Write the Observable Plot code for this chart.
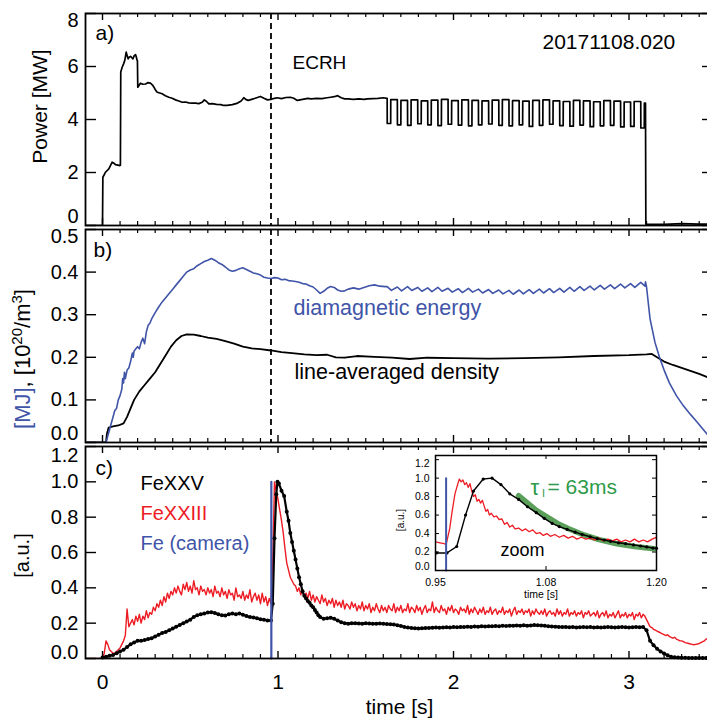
<!DOCTYPE html>
<html><head><meta charset="utf-8">
<script src="https://cdn.jsdelivr.net/npm/d3@7"></script>
<script src="https://cdn.jsdelivr.net/npm/@observablehq/plot@0.6"></script>
<style>
html,body{margin:0;padding:0;background:#fff;overflow:hidden}
#c{position:relative;width:707px;height:718px;overflow:hidden;background:#fff}
#c svg{max-width:none !important}
</style>
</head><body><div id="c"></div>
<script>
// ---------------- DATA ----------------
// panel a: ECRH power [MW] before modulation  [time s, power MW]
const powerRamp = [[-0.09,0],[0.000,0],[0.002,1.82],[0.010,1.92],[0.017,2.01],[0.036,2.14],[0.055,2.39],[0.065,2.35],[0.074,2.30],[0.088,2.28],[0.099,2.26],[0.102,2.27],[0.104,5.79],[0.112,5.97],[0.120,6.10],[0.127,6.23],[0.135,6.54],[0.141,6.40],[0.146,6.29],[0.153,6.36],[0.160,6.38],[0.167,6.33],[0.173,6.29],[0.180,6.40],[0.188,6.45],[0.193,6.35],[0.197,6.23],[0.199,6.22],[0.201,5.22],[0.216,5.37],[0.230,5.33],[0.245,5.34],[0.258,5.39],[0.273,5.37],[0.285,5.30],[0.293,5.22],[0.303,5.10],[0.312,5.03],[0.326,5.00],[0.340,4.97],[0.358,4.90],[0.378,4.84],[0.397,4.80],[0.416,4.74],[0.435,4.70],[0.454,4.65],[0.473,4.66],[0.492,4.63],[0.511,4.62],[0.530,4.62],[0.549,4.60],[0.568,4.65],[0.580,4.74],[0.593,4.68],[0.606,4.59],[0.625,4.60],[0.650,4.57],[0.675,4.56],[0.690,4.53],[0.710,4.53],[0.740,4.56],[0.770,4.62],[0.790,4.70],[0.805,4.82],[0.818,4.75],[0.830,4.72],[0.850,4.76],[0.870,4.80],[0.900,4.87],[0.920,4.80],[0.940,4.74],[0.960,4.76],[0.980,4.80],[0.995,4.82],[1.020,4.79],[1.045,4.83],[1.070,4.84],[1.090,4.80],[1.110,4.72],[1.140,4.76],[1.170,4.80],[1.190,4.78],[1.220,4.80],[1.250,4.79],[1.280,4.82],[1.300,4.84],[1.320,4.86],[1.340,4.90],[1.360,4.82],[1.380,4.78],[1.400,4.78],[1.430,4.76],[1.460,4.78],[1.490,4.76],[1.510,4.78],[1.540,4.79],[1.570,4.80],[1.600,4.82],[1.621,4.80]];
// modulation: dip start/end times [s], level after each dip and dip level [MW]
const modDipStart = [1.622,1.680,1.738,1.796,1.853,1.911,1.969,2.027,2.085,2.142,2.200,2.258,2.316,2.374,2.431,2.489,2.547,2.605,2.663,2.720,2.778,2.836,2.894,2.952,3.009,3.067];
const modDipEnd   = [1.642,1.700,1.758,1.816,1.873,1.931,1.989,2.047,2.105,2.162,2.220,2.278,2.336,2.394,2.451,2.509,2.567,2.625,2.683,2.740,2.798,2.856,2.914,2.972,3.029,3.087];
const modHigh = [4.75,4.72,4.74,4.70,4.73,4.76,4.71,4.74,4.72,4.70,4.73,4.75,4.71,4.69,4.72,4.74,4.70,4.68,4.72,4.70,4.67,4.71,4.69,4.66,4.68,4.62];
const modLow  = [3.85,3.80,3.78,3.84,3.80,3.77,3.82,3.79,3.76,3.80,3.83,3.78,3.76,3.80,3.74,3.78,3.82,3.77,3.75,3.79,3.73,3.76,3.78,3.72,3.74,3.68];
const powerEnd = [[3.094,4.62],[3.096,0.05],[3.20,0.04],[3.30,0.07],[3.40,0.05],[3.48,0.06]];
const ecrhMarker = [0.96];

// panel b: diamagnetic energy [MJ]
const diaRise = [[-0.09,0],[0.02,0],[0.03,0.015],[0.04,0.03],[0.05,0.045],[0.06,0.06],[0.07,0.075],[0.08,0.08],[0.09,0.10],[0.10,0.11],[0.11,0.125],[0.115,0.15],[0.12,0.14],[0.125,0.165],[0.13,0.15],[0.14,0.17],[0.15,0.175],[0.16,0.19],[0.17,0.21],[0.175,0.20],[0.18,0.215],[0.19,0.22],[0.20,0.225],[0.21,0.22],[0.22,0.235],[0.23,0.245],[0.24,0.232],[0.25,0.26],[0.26,0.275],[0.27,0.28],[0.28,0.29],[0.30,0.305],[0.32,0.318],[0.34,0.33],[0.36,0.34],[0.38,0.35],[0.40,0.36],[0.42,0.37],[0.44,0.38],[0.46,0.39],[0.48,0.40],[0.50,0.405],[0.52,0.408],[0.54,0.415],[0.56,0.42],[0.58,0.425],[0.60,0.428],[0.62,0.432],[0.64,0.428],[0.66,0.422],[0.68,0.418],[0.70,0.412],[0.72,0.405],[0.74,0.402],[0.76,0.404],[0.78,0.408],[0.80,0.41],[0.82,0.406],[0.84,0.402],[0.86,0.398],[0.88,0.396],[0.90,0.393],[0.92,0.388],[0.94,0.386],[0.96,0.385],[0.98,0.387],[1.00,0.386],[1.02,0.382],[1.04,0.383],[1.06,0.38],[1.08,0.379],[1.10,0.378],[1.12,0.376],[1.14,0.373],[1.16,0.372],[1.18,0.368],[1.20,0.365],[1.22,0.358],[1.24,0.35],[1.26,0.355],[1.28,0.362],[1.30,0.366],[1.32,0.364],[1.34,0.358],[1.36,0.355],[1.38,0.356],[1.40,0.36],[1.43,0.363],[1.46,0.36],[1.49,0.364],[1.52,0.368],[1.55,0.37],[1.58,0.367],[1.61,0.366]];
const diaPeak   = [0.366,0.365,0.366,0.364,0.363,0.364,0.362,0.361,0.362,0.360,0.359,0.358,0.357,0.358,0.359,0.360,0.361,0.362,0.364,0.366,0.367,0.369,0.370,0.372,0.373,0.376];
const diaTrough = [0.357,0.356,0.357,0.355,0.354,0.355,0.353,0.352,0.353,0.351,0.350,0.349,0.348,0.349,0.350,0.351,0.352,0.353,0.355,0.357,0.358,0.360,0.361,0.363,0.364,0.367];
const diaDecay = [[3.094,0.377],[3.10,0.365],[3.12,0.29],[3.148,0.235],[3.176,0.197],[3.20,0.17],[3.23,0.14],[3.27,0.11],[3.31,0.086],[3.35,0.066],[3.39,0.047],[3.43,0.027],[3.46,0.012],[3.48,0.005]];
// panel b: line-averaged density [1e20/m^3]
const density = [[-0.09,0],[0.02,0],[0.025,0.02],[0.035,0.035],[0.06,0.038],[0.09,0.04],[0.12,0.045],[0.14,0.06],[0.16,0.08],[0.18,0.10],[0.21,0.12],[0.24,0.135],[0.27,0.15],[0.30,0.165],[0.33,0.185],[0.36,0.205],[0.39,0.225],[0.42,0.24],[0.45,0.25],[0.48,0.254],[0.52,0.253],[0.56,0.25],[0.60,0.246],[0.65,0.243],[0.70,0.238],[0.75,0.232],[0.80,0.225],[0.85,0.221],[0.90,0.219],[0.96,0.216],[1.02,0.212],[1.08,0.21],[1.15,0.207],[1.22,0.205],[1.28,0.206],[1.33,0.20],[1.38,0.199],[1.45,0.203],[1.55,0.201],[1.65,0.199],[1.75,0.196],[1.85,0.199],[2.00,0.198],[2.20,0.197],[2.40,0.198],[2.60,0.20],[2.80,0.203],[3.00,0.205],[3.10,0.207],[3.13,0.208],[3.16,0.20],[3.20,0.19],[3.25,0.182],[3.30,0.175],[3.35,0.168],[3.40,0.161],[3.45,0.153],[3.48,0.15]];

// panel c: FeXXIII (red), sampled every 0.01 s from t = 0 (one row = 0.1 s)
const fe23Start = 0, fe23Step = 0.01;
const fe23 = [
0.00,0.03,0.10,0.08,0.05,0.04,0.03,0.03,0.04,0.05,
0.06,0.08,0.10,0.13,0.28,0.18,0.20,0.22,0.19,0.24,
0.21,0.25,0.20,0.24,0.22,0.27,0.23,0.26,0.25,0.29,
0.27,0.31,0.29,0.33,0.30,0.35,0.32,0.37,0.34,0.38,
0.36,0.40,0.37,0.41,0.38,0.36,0.42,0.39,0.43,0.38,
0.41,0.37,0.44,0.39,0.40,0.36,0.41,0.38,0.39,0.36,
0.40,0.37,0.39,0.35,0.41,0.37,0.38,0.35,0.40,0.36,
0.38,0.34,0.39,0.36,0.37,0.33,0.40,0.35,0.36,0.34,
0.38,0.33,0.36,0.34,0.39,0.32,0.35,0.37,0.33,0.36,
0.31,0.37,0.32,0.35,0.30,0.34,0.31,0.55,1.00,0.95,
0.90,0.84,0.78,0.71,0.62,0.54,0.50,0.46,0.44,0.42,
0.41,0.38,0.40,0.36,0.39,0.35,0.37,0.34,0.38,0.33,
0.36,0.32,0.35,0.33,0.31,0.36,0.32,0.34,0.30,0.33,
0.31,0.34,0.29,0.33,0.30,0.32,0.29,0.33,0.28,0.31,
0.30,0.28,0.32,0.29,0.31,0.27,0.30,0.28,0.32,0.27,
0.30,0.28,0.31,0.26,0.29,0.27,0.31,0.28,0.26,0.30,
0.27,0.29,0.26,0.30,0.28,0.27,0.31,0.26,0.29,0.27,
0.30,0.26,0.28,0.27,0.31,0.26,0.29,0.28,0.26,0.30,
0.27,0.29,0.25,0.28,0.30,0.26,0.28,0.27,0.32,0.26,
0.29,0.27,0.26,0.30,0.27,0.28,0.25,0.29,0.27,0.30,
0.26,0.28,0.27,0.25,0.29,0.27,0.28,0.26,0.30,0.25,
0.28,0.26,0.29,0.27,0.25,0.28,0.26,0.29,0.25,0.27,
0.26,0.29,0.25,0.27,0.28,0.25,0.27,0.26,0.29,0.25,
0.27,0.26,0.28,0.24,0.27,0.29,0.25,0.27,0.26,0.28,
0.25,0.27,0.26,0.28,0.24,0.27,0.25,0.28,0.26,0.25,
0.27,0.25,0.28,0.24,0.26,0.27,0.25,0.26,0.24,0.28,
0.25,0.27,0.24,0.26,0.25,0.28,0.24,0.26,0.25,0.27,
0.24,0.26,0.25,0.27,0.23,0.26,0.25,0.27,0.24,0.25,
0.26,0.24,0.27,0.23,0.25,0.26,0.24,0.27,0.23,0.25,
0.24,0.26,0.23,0.25,0.27,0.23,0.25,0.24,0.26,0.23,
0.25,0.24,0.26,0.22,0.25,0.24,0.26,0.23,0.25,0.24,
0.22,0.20,0.18,0.175,0.165,0.16,0.155,0.15,0.145,0.14,
0.135,0.13,0.135,0.125,0.12,0.115,0.12,0.11,0.105,0.10,
0.10,0.095,0.09,0.088,0.085,0.082,0.08,0.078,0.08,0.082,
0.085,0.09,0.095,0.10,0.11,0.115,0.12,0.125];
const fe23Pre = [[-0.09,0],[0,0]];
// panel c: FeXXV (black, dotted samples)
const fe25 = [[0,0.005],[0.02,0.01],[0.04,0.015],[0.06,0.02],[0.08,0.03],[0.10,0.04],[0.12,0.05],[0.14,0.065],[0.16,0.08],[0.18,0.09],[0.20,0.10],[0.22,0.10],[0.24,0.105],[0.26,0.11],[0.28,0.115],[0.30,0.125],[0.32,0.135],[0.34,0.145],[0.36,0.15],[0.38,0.16],[0.40,0.17],[0.42,0.18],[0.44,0.19],[0.46,0.20],[0.48,0.21],[0.50,0.22],[0.52,0.235],[0.54,0.245],[0.56,0.25],[0.58,0.255],[0.60,0.26],[0.62,0.262],[0.64,0.258],[0.66,0.25],[0.68,0.245],[0.70,0.243],[0.72,0.25],[0.74,0.255],[0.76,0.25],[0.78,0.255],[0.80,0.248],[0.82,0.24],[0.84,0.235],[0.86,0.232],[0.88,0.228],[0.90,0.222],[0.92,0.22],[0.94,0.215],[0.96,0.215],[0.97,0.31],[0.98,0.68],[0.99,0.93],[0.997,1.0],[1.005,0.99],[1.02,0.95],[1.035,0.92],[1.05,0.83],[1.06,0.78],[1.07,0.71],[1.08,0.66],[1.09,0.61],[1.10,0.56],[1.11,0.51],[1.12,0.46],[1.13,0.42],[1.14,0.38],[1.15,0.355],[1.16,0.34],[1.17,0.325],[1.18,0.315],[1.19,0.30],[1.20,0.29],[1.21,0.275],[1.22,0.26],[1.23,0.245],[1.24,0.235],[1.26,0.225],[1.28,0.228],[1.30,0.23],[1.32,0.225],[1.34,0.215],[1.36,0.205],[1.38,0.20],
[1.40,0.197],[1.42,0.199],[1.44,0.200],[1.46,0.198],[1.48,0.197],[1.50,0.199],[1.52,0.198],[1.54,0.196],[1.56,0.197],[1.58,0.198],[1.60,0.196],[1.62,0.195],[1.64,0.194],[1.66,0.192],[1.68,0.188],[1.70,0.184],[1.72,0.179],[1.74,0.175],[1.76,0.173],[1.78,0.171],[1.80,0.170],[1.82,0.171],[1.84,0.172],[1.86,0.173],[1.88,0.174],[1.90,0.175],[1.92,0.174],[1.94,0.176],[1.96,0.177],[1.98,0.176],[2.00,0.178],[2.02,0.177],[2.04,0.179],[2.06,0.178],[2.08,0.180],[2.10,0.179],[2.12,0.181],[2.14,0.180],[2.16,0.182],[2.18,0.181],[2.20,0.183],[2.22,0.182],[2.24,0.184],[2.26,0.183],[2.28,0.185],[2.30,0.184],[2.32,0.186],[2.34,0.185],[2.36,0.187],[2.38,0.186],[2.40,0.188],[2.42,0.186],[2.44,0.187],[2.46,0.189],[2.48,0.188],[2.50,0.187],[2.52,0.185],[2.54,0.183],[2.56,0.181],[2.58,0.180],[2.60,0.179],[2.62,0.178],[2.64,0.179],[2.66,0.177],[2.68,0.178],[2.70,0.176],[2.72,0.177],[2.74,0.178],[2.76,0.177],[2.78,0.178],[2.80,0.176],[2.82,0.177],[2.84,0.175],[2.86,0.177],[2.88,0.178],[2.90,0.177],[2.92,0.176],[2.94,0.177],[2.96,0.178],[2.98,0.177],[3.00,0.176],[3.02,0.177],[3.04,0.178],[3.06,0.177],[3.08,0.178],
[3.10,0.16],[3.12,0.10],[3.14,0.075],[3.16,0.055],[3.18,0.04],[3.20,0.028],[3.22,0.018],[3.24,0.010],[3.26,0.007],[3.28,0.005],[3.30,0.004],[3.32,0.004],[3.34,0.003],[3.36,0.003],[3.38,0.003],[3.40,0.003],[3.42,0.003],[3.44,0.003],[3.46,0.003]];
// panel c: Fe camera (instant)
const cameraT = [0.962,0.962], cameraV = [0,1.0];

// inset (zoom 0.95 - 1.20 s)
const zoomFe25 = [[0.951,0.19],[0.963,0.19],[0.974,0.26],[0.984,0.60],[0.993,0.86],[1.004,0.99],[1.014,1.0],[1.024,0.93],[1.034,0.83],[1.044,0.77],[1.054,0.69],[1.064,0.626],[1.073,0.565],[1.082,0.51],[1.090,0.475],[1.099,0.445],[1.108,0.415],[1.116,0.39],[1.125,0.365],[1.133,0.345],[1.141,0.33],[1.148,0.316],[1.157,0.30],[1.165,0.29],[1.174,0.277],[1.182,0.265],[1.189,0.255],[1.196,0.243],[1.2,0.24]];
const zoomFe23 = [[0.95,0.31],[0.955,0.30],[0.96,0.29],[0.962,0.28],[0.966,0.45],[0.969,0.65],[0.972,0.83],[0.975,0.93],[0.977,0.99],[0.979,0.96],[0.981,0.98],[0.983,0.93],[0.985,0.95],[0.987,0.90],[0.989,0.94],[0.991,0.86],[0.993,0.80],[0.995,0.82],[0.997,0.75],[0.999,0.77],[1.001,0.73],[1.003,0.76],[1.005,0.70],[1.007,0.64],[1.009,0.66],[1.011,0.60],[1.013,0.62],[1.016,0.58],[1.019,0.59],[1.022,0.55],[1.025,0.56],[1.028,0.50],[1.031,0.52],[1.034,0.47],[1.037,0.49],[1.04,0.45],[1.044,0.46],[1.048,0.43],[1.052,0.45],[1.056,0.42],[1.06,0.44],[1.064,0.40],[1.068,0.41],[1.072,0.38],[1.076,0.40],[1.08,0.37],[1.085,0.39],[1.09,0.36],[1.095,0.38],[1.10,0.35],[1.105,0.37],[1.11,0.34],[1.115,0.36],[1.12,0.34],[1.125,0.35],[1.13,0.33],[1.135,0.35],[1.14,0.32],[1.145,0.34],[1.15,0.32],[1.155,0.34],[1.16,0.31],[1.165,0.33],[1.17,0.31],[1.175,0.34],[1.18,0.31],[1.185,0.33],[1.19,0.31],[1.195,0.34],[1.2,0.36]];
const zoomFit = [[1.044,0.81],[1.064,0.65],[1.088,0.51],[1.10,0.455],[1.118,0.385],[1.135,0.335],[1.155,0.29],[1.175,0.26],[1.197,0.235]];
const zoomCameraT = [0.962,0.962], zoomCameraV = [0,1.0];

// ticks
const xMajor = [0,1,2,3];
const xMajorLabels = ["0","1","2","3"];
const powerTicks = [0,2,4,6,8], powerTickLabels = ["0","2","4","6","8"];
const bTicks = [0,0.1,0.2,0.3,0.4,0.5], bTickLabels = ["0.0","0.1","0.2","0.3","0.4","0.5"];
const cTicks = [0,0.2,0.4,0.6,0.8,1.0,1.2], cTickLabels = ["0.0","0.2","0.4","0.6","0.8","1.0","1.2"];
const zTicksY = [0,0.2,0.4,0.6,0.8,1.0,1.2], zTickLabelsY = ["0.0","0.2","0.4","0.6","0.8","1.0","1.2"];
const zTicksX = [0.95,1.075,1.2], zTickLabelsX = ["0.95","1.08","1.20"];

// ---------------- BUILD ----------------
const RED = "#ed1c24", BLUE = "#4054a8", GREEN = "#2e9b4a", FIT = "#3d8f3d";
const FONT = "'Liberation Sans', Arial, Helvetica, sans-serif";
const W = 714, H = 718, ML = 85, MR = 1, PW = W - ML - MR;
const xDomain = [-0.0969, 3.4815];
const xMinor = d3.range(1, 35).filter(i => i % 10 !== 0).map(i => i / 10);
const svgStyle = {position:"absolute", left:"0px", top:"0px", maxWidth:"none", background:"transparent", overflow:"visible", fontFamily:FONT};

// power table
const power = powerRamp.slice();
modDipStart.forEach((s, i) => {
  const prev = i === 0 ? powerRamp[powerRamp.length-1][1] : modHigh[i-1];
  power.push([s, prev], [s + 0.0005, modLow[i]], [modDipEnd[i], modLow[i]], [modDipEnd[i] + 0.0005, modHigh[i]]);
});
power.push(...powerEnd);
// diamagnetic table
const dia = diaRise.slice();
modDipStart.forEach((s, i) => dia.push([s, diaPeak[i]], [modDipEnd[i] + 0.004, diaTrough[i]]));
dia.push(...diaDecay);
// FeXXIII table
const fe23Data = fe23Pre.concat(fe23.map((v, i) => [Math.round((fe23Start + i * fe23Step) * 1000) / 1000, v]));
const camera = cameraT.map((t, i) => [t, cameraV[i]]);
const zoomCamera = zoomCameraT.map((t, i) => [t, zoomCameraV[i]]);

const X = d => d[0], Y = d => d[1];

function frameTicks(top, bottom, yTicks) {
  const ph = bottom - top;
  return [
    Plot.ruleX(xMinor, {insetTop: ph - 4, strokeWidth: 1.2}),
    Plot.ruleX(xMinor, {insetBottom: ph - 4, strokeWidth: 1.2}),
    Plot.ruleX(xMajor, {insetTop: ph - 7, strokeWidth: 1.4}),
    Plot.ruleX(xMajor, {insetBottom: ph - 7, strokeWidth: 1.4}),
    Plot.ruleY(yTicks, {insetRight: PW - 11, strokeWidth: 1.4}),
    Plot.ruleY(yTicks, {insetLeft: PW - 11, strokeWidth: 1.4}),
    Plot.frame({stroke: "#000", strokeWidth: 1.8})
  ];
}
function yLabels(ticks, labels, fs, pad, dyFirst, dyLast) {
  return ticks.map((v, i) => Plot.text([{v, s: labels[i]}], {
    y: "v", text: "s", frameAnchor: "left", textAnchor: "end", lineAnchor: "middle", dx: -pad,
    dy: i === 0 ? dyFirst : (i === ticks.length - 1 ? dyLast : 0), fontSize: fs
  }));
}
function label(str, o) {
  return Plot.text([str], {text: d => d, textAnchor: "start", lineAnchor: "middle", ...o});
}
function vlabel(str, o) {
  return Plot.text([str], {text: d => d, frameAnchor: "left", textAnchor: "middle", lineAnchor: "middle", rotate: -90, ...o});
}

const root = document.getElementById("c");

// ---- panel a
const A_TOP = 13, A_BOT = 225;
const panelA = Plot.plot({
  width: W, height: H, marginLeft: ML, marginRight: MR, marginTop: A_TOP, marginBottom: H - A_BOT,
  x: {domain: xDomain, axis: null}, y: {domain: [0, 8], axis: null}, style: svgStyle,
  marks: [
    Plot.ruleX(ecrhMarker, {strokeDasharray: "6,4", strokeWidth: 1.8}),
    Plot.line(power, {x: X, y: Y, stroke: "#000", strokeWidth: 1.7, clip: true}),
    ...frameTicks(A_TOP, A_BOT, powerTicks),
    ...yLabels(powerTicks, powerTickLabels, 20, 7, -9, 7),
    vlabel("Power [MW]", {dx: -45, dy: -13, fontSize: 21}),
    label("a)", {frameAnchor: "top-left", dx: 10, dy: 20, fontSize: 21}),
    label("ECRH", {frameAnchor: "top-left", dx: 207, dy: 49, fontSize: 19}),
    label("20171108.020", {frameAnchor: "top-left", dx: 457, dy: 29, fontSize: 21})
  ]
});
root.appendChild(panelA);

// ---- panel b
const B_TOP = 229, B_BOT = 442;
const panelB = Plot.plot({
  width: W, height: H, marginLeft: ML, marginRight: MR, marginTop: B_TOP, marginBottom: H - B_BOT,
  x: {domain: xDomain, axis: null}, y: {domain: [0, 0.5], axis: null}, style: svgStyle,
  marks: [
    Plot.ruleX(ecrhMarker, {strokeDasharray: "6,4", strokeWidth: 1.8}),
    Plot.line(density, {x: X, y: Y, stroke: "#000", strokeWidth: 1.8, clip: true}),
    Plot.line(dia, {x: X, y: Y, stroke: BLUE, strokeWidth: 1.6, clip: true}),
    ...frameTicks(B_TOP, B_BOT, bTicks),
    ...yLabels(bTicks, bTickLabels, 20, 7, -9, 7),
    label("b)", {frameAnchor: "top-left", dx: 8, dy: 21, fontSize: 21}),
    label("diamagnetic energy", {frameAnchor: "top-left", dx: 208, dy: 79, fontSize: 21.5, fill: BLUE}),
    label("line-averaged density", {frameAnchor: "top-left", dx: 209, dy: 143, fontSize: 21.5})
  ]
});
root.appendChild(panelB);
{
  const t = d3.select(panelB).append("text")
    .attr("transform", "translate(22,359) rotate(-90)")
    .attr("text-anchor", "middle").attr("dy", "0.35em")
    .attr("font-size", 22).attr("font-family", FONT).attr("fill", "#000");
  t.append("tspan").attr("fill", BLUE).text("[MJ]");
  t.append("tspan").text(", [10");
  t.append("tspan").attr("dy", -8).attr("font-size", 15).text("20");
  t.append("tspan").attr("dy", 8).text("/m");
  t.append("tspan").attr("dy", -8).attr("font-size", 15).text("3");
  t.append("tspan").attr("dy", 8).text("]");
}

// ---- panel c
const C_TOP = 446, C_BOT = 658;
const panelC = Plot.plot({
  width: W, height: H, marginLeft: ML, marginRight: MR, marginTop: C_TOP, marginBottom: H - C_BOT,
  x: {domain: xDomain, axis: null}, y: {domain: [0, 1.2], axis: null}, style: svgStyle,
  marks: [
    Plot.line(fe23Data, {x: X, y: Y, stroke: RED, strokeWidth: 1.4, clip: true}),
    Plot.line(fe25, {x: X, y: Y, stroke: "#000", strokeWidth: 2.2, clip: true}),
    Plot.dot(fe25, {x: X, y: Y, r: 2, fill: "#000", stroke: null}),
    Plot.line(camera, {x: X, y: Y, stroke: BLUE, strokeWidth: 2.2}),
    ...frameTicks(C_TOP, C_BOT, cTicks),
    ...yLabels(cTicks, cTickLabels, 20, 7, -6, 9),
    Plot.text(xMajor.map((v, i) => ({v, s: xMajorLabels[i]})), {x: "v", text: "s", frameAnchor: "bottom", lineAnchor: "middle", dy: 24, fontSize: 21}),
    Plot.text(["time [s]"], {text: d => d, frameAnchor: "bottom", lineAnchor: "middle", dy: 49, fontSize: 21}),
    vlabel("[a.u.]", {dx: -63, dy: 3, fontSize: 20}),
    label("c)", {frameAnchor: "top-left", dx: 10, dy: 22, fontSize: 21}),
    label("FeXXV", {frameAnchor: "top-left", dx: 55, dy: 37, fontSize: 20}),
    label("FeXXIII", {frameAnchor: "top-left", dx: 55, dy: 67, fontSize: 20, fill: RED}),
    label("Fe (camera)", {frameAnchor: "top-left", dx: 55, dy: 97, fontSize: 20, fill: BLUE})
  ]
});
root.appendChild(panelC);

// ---- inset
const I_L = 435, I_R = 656, I_T = 455, I_B = 570;
const IW = I_R - I_L, IH = I_B - I_T;
const inset = Plot.plot({
  width: W, height: H, marginLeft: I_L, marginRight: W - I_R, marginTop: I_T, marginBottom: H - I_B,
  x: {domain: [0.95, 1.2], axis: null}, y: {domain: [0, 1.245], axis: null}, style: svgStyle,
  marks: [
    Plot.frame({fill: "#fff", stroke: null}),
    Plot.line(zoomFit, {x: X, y: Y, stroke: FIT, strokeWidth: 5.5, strokeOpacity: 0.85, clip: true}),
    Plot.line(zoomFe23, {x: X, y: Y, stroke: RED, strokeWidth: 1.3, clip: true}),
    Plot.line(zoomFe25, {x: X, y: Y, stroke: "#000", strokeWidth: 1.4, clip: true}),
    Plot.dot(zoomFe25, {x: X, y: Y, r: 1.6, fill: "#000", stroke: null}),
    Plot.line(zoomCamera, {x: X, y: Y, stroke: BLUE, strokeWidth: 2}),
    Plot.ruleY(zTicksY, {insetRight: IW - 4, strokeWidth: 1}),
    Plot.ruleY(zTicksY, {insetLeft: IW - 4, strokeWidth: 1}),
    Plot.ruleX(zTicksX, {insetTop: IH - 4, strokeWidth: 1}),
    Plot.ruleX(zTicksX, {insetBottom: IH - 4, strokeWidth: 1}),
    Plot.frame({stroke: "#000", strokeWidth: 1.5}),
    ...yLabels(zTicksY, zTickLabelsY, 10.5, 6, -4, 4),
    Plot.text(zTicksX.map((v, i) => ({v, s: zTickLabelsX[i]})), {x: "v", text: "s", frameAnchor: "bottom", lineAnchor: "middle", dy: 12, fontSize: 10.5}),
    Plot.text(["time [s]"], {text: d => d, frameAnchor: "bottom", lineAnchor: "middle", dx: -5, dy: 24, fontSize: 10.5}),
    vlabel("[a.u.]", {dx: -35, dy: 7, fontSize: 10}),
    Plot.text(["zoom"], {text: d => d, frameAnchor: "top-left", lineAnchor: "middle", dx: 65, dy: 95, fontSize: 18}),
    label("\u03C4", {frameAnchor: "top-left", dx: 95, dy: 32, fontSize: 22, fill: GREEN}),
    label("I", {frameAnchor: "top-left", dx: 106.5, dy: 38, fontSize: 11, fill: GREEN}),
    label("= 63ms", {frameAnchor: "top-left", dx: 112, dy: 32, fontSize: 21, fill: GREEN})
  ]
});
root.appendChild(inset);
</script>
</body></html>
